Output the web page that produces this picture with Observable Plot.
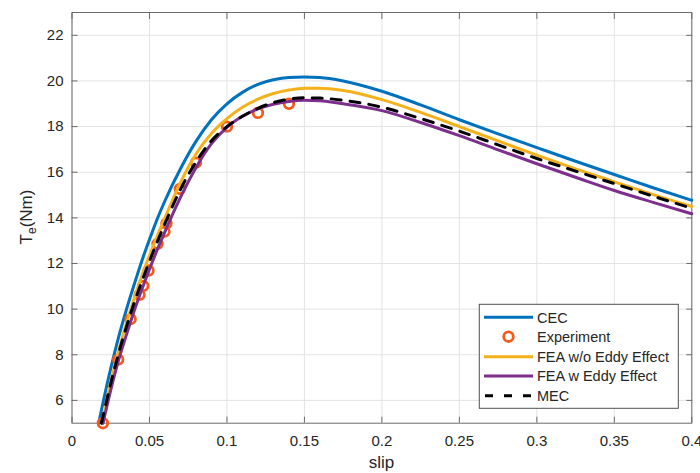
<!DOCTYPE html>
<html>
<head>
<meta charset="utf-8">
<script src="https://cdn.jsdelivr.net/npm/d3@7"></script>
<script src="https://cdn.jsdelivr.net/npm/@observablehq/plot@0.6"></script>
<style>
  html, body { margin: 0; padding: 0; background: #fff; }
  #chart { width: 700px; height: 473px; }
  svg { font-family: "Liberation Sans", Arial, Helvetica, sans-serif; }
</style>
</head>
<body>
<div id="chart"></div>
<script>
// ---- data ----
const xTicks = [0, 0.05, 0.1, 0.15, 0.2, 0.25, 0.3, 0.35, 0.4];
const xTickLabels = ["0", "0.05", "0.1", "0.15", "0.2", "0.25", "0.3", "0.35", "0.4"];
const yTicks = [6, 8, 10, 12, 14, 16, 18, 20, 22];
const yTickLabels = ["6", "8", "10", "12", "14", "16", "18", "20", "22"];

const cecSlip   = [0.0172, 0.02, 0.025, 0.03, 0.035, 0.04, 0.045, 0.05, 0.055, 0.06, 0.07, 0.08, 0.09, 0.1, 0.11, 0.12, 0.13, 0.14, 0.15, 0.16, 0.175, 0.2, 0.225, 0.25, 0.275, 0.3, 0.325, 0.35, 0.375, 0.4];
const cecTorque = [5.0, 5.9, 7.4, 8.75, 9.95, 11.05, 12.1, 13.05, 13.95, 14.75, 16.15, 17.35, 18.3, 19.0, 19.5, 19.85, 20.05, 20.15, 20.17, 20.15, 20.0, 19.55, 18.95, 18.3, 17.68, 17.08, 16.48, 15.9, 15.32, 14.77];

const expSlip   = [0.0199, 0.0298, 0.0378, 0.0436, 0.046, 0.0494, 0.0552, 0.0597, 0.061, 0.0696, 0.08, 0.1, 0.12, 0.14];
const expTorque = [5.0, 7.79, 9.56, 10.63, 11.02, 11.69, 12.86, 13.4, 13.76, 15.27, 16.42, 18.0, 18.6, 19.0];

const feaWoSlip   = [0.0195, 0.025, 0.03, 0.035, 0.04, 0.045, 0.05, 0.055, 0.06, 0.07, 0.08, 0.09, 0.1, 0.11, 0.12, 0.13, 0.14, 0.15, 0.16, 0.175, 0.2, 0.225, 0.25, 0.275, 0.3, 0.325, 0.35, 0.375, 0.4];
const feaWoTorque = [5.0, 6.8, 8.15, 9.35, 10.45, 11.45, 12.35, 13.2, 14.0, 15.55, 16.8, 17.7, 18.35, 18.85, 19.2, 19.45, 19.6, 19.68, 19.68, 19.58, 19.18, 18.62, 18.0, 17.37, 16.75, 16.15, 15.58, 15.02, 14.5];

const feaWSlip   = [0.02, 0.025, 0.03, 0.035, 0.04, 0.045, 0.05, 0.055, 0.06, 0.07, 0.08, 0.09, 0.1, 0.11, 0.12, 0.13, 0.14, 0.15, 0.16, 0.175, 0.2, 0.225, 0.25, 0.275, 0.3, 0.325, 0.35, 0.375, 0.4];
const feaWTorque = [5.0, 6.45, 7.75, 8.85, 9.9, 10.85, 11.75, 12.6, 13.4, 14.9, 16.2, 17.25, 17.97, 18.45, 18.78, 18.98, 19.1, 19.15, 19.13, 19.0, 18.7, 18.18, 17.6, 16.98, 16.37, 15.78, 15.2, 14.68, 14.18];

const mecSlip   = [0.019, 0.025, 0.03, 0.035, 0.04, 0.045, 0.05, 0.055, 0.06, 0.07, 0.08, 0.09, 0.1, 0.11, 0.12, 0.13, 0.14, 0.15, 0.16, 0.175, 0.2, 0.225, 0.25, 0.275, 0.3, 0.325, 0.35, 0.375, 0.4];
const mecTorque = [5.0, 6.75, 8.05, 9.2, 10.25, 11.2, 12.1, 12.95, 13.75, 15.25, 16.45, 17.38, 18.0, 18.45, 18.8, 19.05, 19.2, 19.26, 19.25, 19.15, 18.85, 18.35, 17.8, 17.2, 16.6, 16.05, 15.5, 14.95, 14.42];

const seriesNames = ["CEC", "Experiment", "FEA w/o Eddy Effect", "FEA w Eddy Effect", "MEC"];
const seriesColors = ["#0072BD", "#F55A1C", "#F5B11A", "#7E2F8E", "#000000"];

// ---- build tables ----
const toRows = (xs, ys) => xs.map((x, i) => ({slip: x, te: ys[i]}));
const cec = toRows(cecSlip, cecTorque);
const exp = toRows(expSlip, expTorque);
const feaWo = toRows(feaWoSlip, feaWoTorque);
const feaW = toRows(feaWSlip, feaWTorque);
const mec = toRows(mecSlip, mecTorque);

const font = '"Liberation Sans", Arial, Helvetica, sans-serif';
const frameColor = "#6b6b6b";
const gridColor = "#e3e3e3";

const plot = Plot.plot({
  width: 700,
  height: 473,
  marginLeft: 71.5,
  marginRight: 8.7,
  marginTop: 12,
  marginBottom: 50.3,
  style: {fontFamily: font, fontSize: "15px", color: "#262626", background: "#fff"},
  x: {domain: [0, 0.4]},
  y: {domain: [5, 23]},
  marks: [
    Plot.gridX(xTicks, {stroke: gridColor, strokeOpacity: 1}),
    Plot.gridY(yTicks, {stroke: gridColor, strokeOpacity: 1}),
    Plot.axisX(xTicks, {anchor: "bottom", tickSize: -6, tickPadding: 18, stroke: frameColor, fill: "#262626",
      tickFormat: d => xTickLabels[xTicks.indexOf(d)], label: null}),
    Plot.axisX(xTicks, {anchor: "top", tickSize: -6, stroke: frameColor, tickFormat: () => "", label: null}),
    Plot.axisY(yTicks, {anchor: "left", tickSize: -6, tickPadding: 14.5, stroke: frameColor, fill: "#262626",
      tickFormat: d => yTickLabels[yTicks.indexOf(d)], label: null}),
    Plot.axisY(yTicks, {anchor: "right", tickSize: -6, stroke: frameColor, tickFormat: () => "", label: null}),
    Plot.frame({stroke: frameColor, strokeWidth: 1}),
    Plot.line(cec, {x: "slip", y: "te", stroke: seriesColors[0], strokeWidth: 3, curve: "monotone-x"}),
    Plot.dot(exp, {x: "slip", y: "te", r: 4.8, stroke: seriesColors[1], strokeWidth: 2.8, fill: "none"}),
    Plot.line(feaWo, {x: "slip", y: "te", stroke: seriesColors[2], strokeWidth: 3, curve: "monotone-x"}),
    Plot.line(feaW, {x: "slip", y: "te", stroke: seriesColors[3], strokeWidth: 3, curve: "monotone-x"}),
    Plot.line(mec, {x: "slip", y: "te", stroke: seriesColors[4], strokeWidth: 3, strokeDasharray: "10,9", curve: "monotone-x"})
  ]
});

document.getElementById("chart").appendChild(plot);

// ---- axis titles and legend (annotations) ----
const svg = d3.select(plot);
svg.append("text")
  .attr("x", 381.4).attr("y", 468)
  .attr("text-anchor", "middle")
  .attr("font-size", 17).attr("fill", "#262626").attr("font-family", font)
  .text("slip");

const yl = svg.append("text")
  .attr("transform", "translate(32,217) rotate(-90)")
  .attr("text-anchor", "middle")
  .attr("font-size", 17).attr("fill", "#262626").attr("font-family", font);
yl.append("tspan").text("T");
yl.append("tspan").attr("font-size", 12).attr("dy", 4).text("e");
yl.append("tspan").attr("dy", -4).text("(Nm)");

const lg = svg.append("g").attr("font-family", font).attr("font-size", 14.5)
  .attr("fill", "#262626").attr("text-anchor", "start");
const boxX = 479.3, boxY = 304.3, boxW = 199, boxH = 104;
lg.append("rect").attr("x", boxX).attr("y", boxY).attr("width", boxW).attr("height", boxH)
  .attr("fill", "#fff").attr("stroke", "#505050").attr("stroke-width", 1);
const rowY = [317.3, 336.7, 356.7, 376, 395.7];
seriesNames.forEach((name, i) => {
  const y = rowY[i];
  if (name === "Experiment") {
    lg.append("circle").attr("cx", 508.5).attr("cy", y).attr("r", 4.8)
      .attr("fill", "none").attr("stroke", seriesColors[i]).attr("stroke-width", 2.8);
  } else {
    const l = lg.append("line").attr("x1", 484).attr("x2", 533).attr("y1", y).attr("y2", y)
      .attr("stroke", seriesColors[i]).attr("stroke-width", 3);
    if (name === "MEC") l.attr("stroke-dasharray", "8,11").attr("stroke-dashoffset", -1);
  }
  lg.append("text").attr("x", 537).attr("y", y).attr("dy", "0.36em")
    .attr("text-anchor", "start").text(name);
});
</script>
</body>
</html>
